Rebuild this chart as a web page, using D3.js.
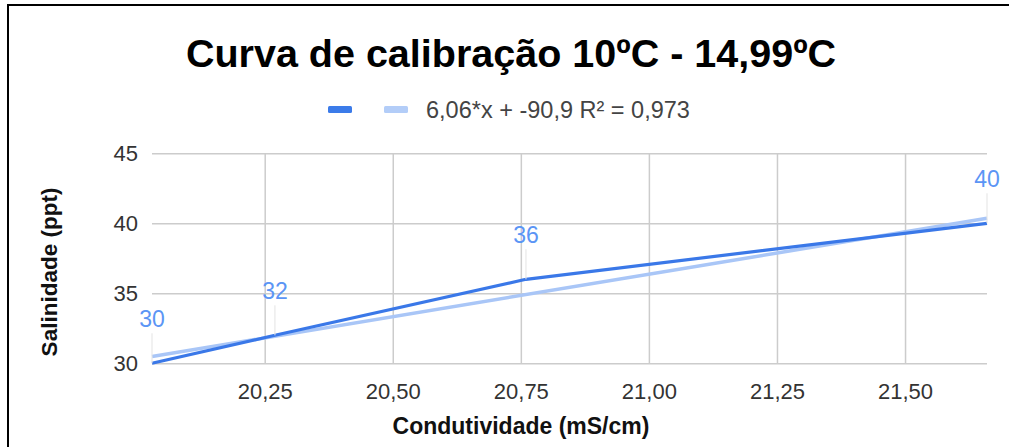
<!DOCTYPE html>
<html>
<head>
<meta charset="utf-8">
<script src="https://cdn.jsdelivr.net/npm/d3@7/dist/d3.min.js"></script>
<style>
  html, body { margin: 0; padding: 0; background: #fff; }
  svg { display: block; font-family: "Liberation Sans", Arial, sans-serif; }
</style>
</head>
<body>
<svg id="chart" width="1009" height="447"></svg>
<script>
// Calibration readings: conductivity (mS/cm) vs salinity (ppt)
const conductivity = [20.03, 20.27, 20.76, 21.66];
const salinity = [30, 32, 36, 40];
const yTicks = [30, 35, 40, 45];
const xTicks = [20.25, 20.50, 20.75, 21.00, 21.25, 21.50];
// Linear trendline reported in the legend
const trendSlope = 6.06;
const trendIntercept = -90.9;
const trendLabel = "6,06*x + -90,9 R\u00b2 = 0,973";
const chartTitle = "Curva de calibração 10ºC - 14,99ºC";
const xTitle = "Condutividade (mS/cm)";
const yTitle = "Salinidade (ppt)";

const svg = d3.select("#chart");
const W = 1009, H = 447;
const plot = { left: 152, right: 987, top: 153.3, bottom: 363.3 };

const fmt = d3.formatLocale({ decimal: ",", thousands: ".", grouping: [3], currency: ["", ""] });
const fmt2 = fmt.format(".2f");

const x = d3.scaleLinear().domain(d3.extent(conductivity)).range([plot.left, plot.right]);
const y = d3.scaleLinear().domain([30, 45]).range([plot.bottom, plot.top]);

// frame edges
svg.append("line").attr("x1", 8).attr("x2", 8).attr("y1", 4).attr("y2", H)
  .attr("stroke", "#000").attr("stroke-width", 2);
svg.append("line").attr("x1", 7).attr("x2", W).attr("y1", 5).attr("y2", 5)
  .attr("stroke", "#000").attr("stroke-width", 2);

// title
svg.append("text").attr("x", 511).attr("y", 67).attr("text-anchor", "middle")
  .attr("font-size", 39.5).attr("font-weight", "bold").attr("fill", "#000")
  .text(chartTitle);

// legend
const legend = svg.append("g");
legend.append("rect").attr("x", 328).attr("y", 106).attr("width", 24).attr("height", 7)
  .attr("rx", 1.5).attr("fill", "#3b7be9");
legend.append("rect").attr("x", 384).attr("y", 106).attr("width", 24).attr("height", 7)
  .attr("rx", 1.5).attr("fill", "#b3cdf8");
legend.append("text").attr("x", 426).attr("y", 117.5).attr("font-size", 23.5)
  .attr("fill", "#444").text(trendLabel);

// horizontal gridlines + y axis labels
const yAxis = d3.axisLeft(y).tickValues(yTicks).tickSize(-(plot.right - plot.left)).tickPadding(14)
  .tickFormat(d3.format("d"));
const gy = svg.append("g").attr("transform", `translate(${plot.left},0)`).call(yAxis);
gy.select(".domain").remove();
gy.selectAll(".tick line").attr("stroke", "#cccccc").attr("stroke-width", 1.5);
gy.selectAll(".tick text").attr("font-size", 22).attr("fill", "#333")
  .attr("font-family", "Liberation Sans, Arial, sans-serif").attr("x", -14);

// vertical gridlines + x axis labels
const xAxis = d3.axisBottom(x).tickValues(xTicks).tickSize(-(plot.bottom - plot.top)).tickPadding(20)
  .tickFormat(fmt2);
const gx = svg.append("g").attr("transform", `translate(0,${plot.bottom})`).call(xAxis);
gx.select(".domain").remove();
gx.selectAll(".tick line").attr("stroke", "#cccccc").attr("stroke-width", 1.5);
gx.selectAll(".tick text").attr("font-size", 22).attr("fill", "#333")
  .attr("font-family", "Liberation Sans, Arial, sans-serif");

// axis titles
svg.append("text").attr("x", 521).attr("y", 434).attr("text-anchor", "middle")
  .attr("font-size", 23).attr("font-weight", "bold").attr("fill", "#111").text(xTitle);
svg.append("text").attr("transform", "translate(57,272) rotate(-90)").attr("text-anchor", "middle")
  .attr("font-size", 22.5).attr("font-weight", "bold").attr("fill", "#111").text(yTitle);

// trendline over the x range
const xr = x.domain();
const trend = xr.map(v => ({ x: v, y: trendSlope * v + trendIntercept }));
svg.append("path").datum(trend)
  .attr("d", d3.line().x(d => x(d.x)).y(d => y(d.y)))
  .attr("fill", "none").attr("stroke", "#a9c6f7").attr("stroke-width", 3.5)
  .attr("stroke-linecap", "butt");

// data series
const pts = conductivity.map((c, i) => ({ x: c, y: salinity[i] }));
svg.append("path").datum(pts)
  .attr("d", d3.line().x(d => x(d.x)).y(d => y(d.y)))
  .attr("fill", "none").attr("stroke", "#3a78e8").attr("stroke-width", 3.2)
  .attr("stroke-linejoin", "round");

// data labels with leader lines
const labels = svg.append("g");
pts.forEach(d => {
  labels.append("line").attr("x1", x(d.x)).attr("x2", x(d.x))
    .attr("y1", y(d.y) - 30).attr("y2", y(d.y))
    .attr("stroke", "#e3e3e3").attr("stroke-width", 1);
  labels.append("text").attr("x", x(d.x)).attr("y", y(d.y) - 36)
    .attr("text-anchor", "middle").attr("font-size", 23).attr("fill", "#5b95f5")
    .text(d.y);
});
</script>
</body>
</html>
